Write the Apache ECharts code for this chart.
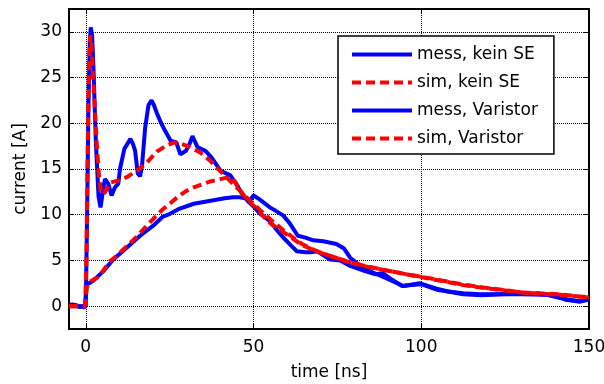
<!DOCTYPE html>
<html>
<head>
<meta charset="utf-8">
<script src="https://cdn.jsdelivr.net/npm/echarts@6/dist/echarts.min.js"></script>
<style>
  html, body { margin: 0; padding: 0; background: #fff; }
  #chart { width: 604px; height: 384px; }
</style>
</head>
<body>
<div id="chart"></div>
<script>
// time axis in ns, current in A
const xTicks = [0, 50, 100, 150];
const yTicks = [0, 5, 10, 15, 20, 25, 30];

const tMessKein = [-5, -4, -3, -2, -1, -0.5, 0, 0.4, 0.8, 1.2, 1.5, 1.9, 2.3, 3.0, 3.8, 4.4, 5.0, 5.7, 6.7, 7.7, 8.7, 9.7, 10.2, 11.5, 12.5, 13.3, 14.0, 14.7, 15.5, 16.2, 16.8, 17.7, 18.7, 19.6, 20.3, 21.3, 22.5, 23.6, 25.3, 27.0, 28.2, 29.9, 31.0, 31.8, 33.3, 35.6, 37.4, 40.2, 43.1, 44.8, 46.6, 48.3, 50.0, 52.0, 54.9, 57.0, 58.9, 61.0, 62.9, 65.5, 67.0, 69.0, 72.8, 75.9, 78.8, 82.8, 86.2, 88.5, 90.8, 94.3, 97.0, 100.0, 104.6, 108.0, 112.5, 118.0, 124.0, 130.0, 135.0, 140.0, 143.0, 147.0, 150.0];
const iMessKein = [0.1, 0.2, 0.1, 0, 0, -0.2, 0, 10, 22, 29, 30.5, 29.5, 26, 18, 12, 10.8, 12.3, 13.9, 13.4, 12.1, 13.0, 13.4, 15.0, 17.2, 17.8, 18.3, 17.8, 17.0, 14.5, 14.2, 15.5, 19.5, 22.0, 22.5, 22.0, 21.0, 20.0, 19.2, 18.1, 17.9, 16.6, 17.0, 17.8, 18.6, 17.4, 17.0, 16.3, 14.8, 14.3, 13.4, 12.3, 11.5, 10.9, 10.1, 9.3, 8.3, 7.5, 6.7, 6.0, 5.9, 5.9, 6.0, 5.1, 5.0, 4.4, 3.9, 3.5, 3.6, 3.0, 2.2, 2.3, 2.4, 1.8, 1.6, 1.3, 1.2, 1.3, 1.3, 1.3, 1.2, 0.7, 0.5, 0.7];

const tSimKein = [-5, -0.2, 0.2, 0.6, 1.0, 1.3, 1.6, 2.0, 2.5, 3.0, 3.5, 4.0, 4.5, 5.2, 6.3, 7.2, 9.2, 12.2, 15.2, 18.2, 21.2, 24.1, 26.4, 28.1, 31.1, 34.1, 37.1, 40.0, 43.0, 46.0, 49.0, 52.0, 55.0, 58.9, 64.4, 69.0, 73.6, 78.8, 83.9, 89.7, 95.4, 101.0, 106.9, 112.6, 118.4, 124.0, 130.0, 135.6, 141.4, 147.0, 150.0];
const iSimKein = [0, 0, 5, 18, 27, 29.6, 29.2, 26.5, 23, 19.5, 16.5, 14, 12.6, 12.2, 12.8, 13.5, 13.7, 14.1, 14.8, 15.7, 16.9, 17.6, 17.9, 17.8, 17.4, 16.8, 15.9, 14.8, 13.7, 12.6, 11.5, 10.5, 9.5, 8.3, 6.8, 6.0, 5.4, 4.8, 4.3, 3.9, 3.5, 3.1, 2.7, 2.3, 2.0, 1.75, 1.5, 1.35, 1.25, 1.05, 0.95];

const tMessVar = [-5, -4, -3, -2, -1, -0.3, 0.1, 0.3, 1.0, 2.3, 5.2, 8.2, 12.2, 16.2, 20.1, 23.0, 25.1, 27.6, 32.2, 36.8, 41.4, 44.0, 46.0, 47.5, 49.0, 50.0, 51.7, 54.9, 56.3, 58.9, 60.9, 63.2, 65.5, 67.8, 70.8, 74.7, 77.0, 78.8, 81.8, 84.8, 88.0, 91.0, 94.6, 99.6, 104.6, 108.0, 112.5, 117.5, 123.5, 127.5, 132.0, 137.4, 142.4, 147.4, 150.0];
const iMessVar = [0.1, 0, 0.1, -0.1, 0, -0.2, 0, 2.4, 2.5, 2.8, 3.8, 5.1, 6.4, 7.7, 8.8, 9.8, 10.1, 10.6, 11.2, 11.5, 11.8, 11.9, 11.9, 11.8, 11.6, 12.1, 11.7, 10.8, 10.5, 9.9, 9.0, 7.7, 7.5, 7.2, 7.1, 6.8, 6.3, 5.3, 4.4, 3.8, 3.3, 2.8, 2.2, 2.5, 1.9, 1.6, 1.4, 1.3, 1.3, 1.35, 1.3, 1.25, 0.8, 0.5, 0.8];

const tSimVar = [-5, -0.2, 0.3, 1.0, 3.3, 5.0, 7.2, 9.2, 11.2, 13.8, 15.2, 18.4, 20.0, 23.0, 25.0, 27.6, 30.0, 32.2, 34.5, 36.8, 39.0, 41.4, 43.0, 44.5, 46.0, 48.3, 50.6, 53.0, 55.2, 58.9, 64.4, 69.0, 73.6, 78.2, 83.9, 89.7, 95.4, 101.0, 106.9, 112.6, 118.4, 124.0, 130.0, 135.6, 141.4, 147.0, 150.0];
const iSimVar = [0, 0, 2.0, 2.6, 3.1, 3.8, 4.9, 5.5, 6.2, 7.1, 7.6, 8.9, 9.5, 10.6, 11.2, 12.0, 12.6, 13.0, 13.3, 13.6, 13.8, 14.0, 14.1, 13.6, 12.6, 11.6, 10.8, 9.8, 9.0, 8.1, 6.7, 5.95, 5.4, 4.85, 4.35, 3.9, 3.5, 3.15, 2.75, 2.35, 2.05, 1.8, 1.5, 1.4, 1.3, 1.05, 1.0];

const zip = (ts, vs) => ts.map((t, i) => [t, vs[i]]);

const FONT = "DejaVu Sans";
const BLUE = "#0000ff";
const RED = "#ff0000";

const chart = echarts.init(document.getElementById("chart"), null, { renderer: "canvas" });

const gridLine = { show: true, lineStyle: { color: "#000", width: 1, type: [1, 1] } };
const frameLine = { show: true, onZero: false, lineStyle: { color: "#000", width: 2 } };

const solid = (name, data) => ({
  name, type: "line", data, showSymbol: false, symbol: "none",
  lineStyle: { color: BLUE, width: 4 }, itemStyle: { color: BLUE }
});
const dashed = (name, data) => ({
  name, type: "line", data, showSymbol: false, symbol: "none",
  lineStyle: { color: RED, width: 4, type: [9, 5] }, itemStyle: { color: RED }
});

const option = {
  animation: false,
  backgroundColor: "#fff",
  textStyle: { fontFamily: FONT },
  grid: { left: 69, right: 15, top: 9, bottom: 55, containLabel: false, outerBoundsMode: "none" },
  legend: {
    orient: "vertical",
    left: 338,
    top: 36,
    padding: [10, 16, 7, 12],
    itemWidth: 60,
    itemHeight: 14,
    itemGap: 11,
    backgroundColor: "#fff",
    borderColor: "#000",
    borderWidth: 1.5,
    borderRadius: 0,
    itemStyle: { opacity: 0 },
    lineStyle: { width: 4 },
    textStyle: { color: "#000", fontSize: 17, fontFamily: FONT },
    data: ["mess, kein SE", "sim, kein SE", "mess, Varistor", "sim, Varistor"]
  },
  xAxis: [
    {
      type: "value", min: -5, max: 150,
      name: "time [ns]", nameLocation: "middle", nameGap: 35,
      nameTextStyle: { color: "#000", fontSize: 17, fontFamily: FONT },
      axisLine: frameLine,
      axisTick: { show: true, inside: true, length: 5, customValues: xTicks, lineStyle: { color: "#000" } },
      axisLabel: { color: "#000", fontSize: 17, fontFamily: FONT, margin: 10, customValues: xTicks },
      splitLine: gridLine
    },
    {
      type: "value", min: -5, max: 150, position: "top",
      axisLine: frameLine,
      axisTick: { show: true, inside: true, length: 5, customValues: xTicks, lineStyle: { color: "#000" } },
      axisLabel: { show: false },
      splitLine: { show: false }
    }
  ],
  yAxis: [
    {
      type: "value", min: -2.5, max: 32.5,
      name: "current [A]", nameLocation: "middle", nameGap: 40,
      nameTextStyle: { color: "#000", fontSize: 17, fontFamily: FONT },
      axisLine: frameLine,
      axisTick: { show: true, inside: true, length: 5, customValues: yTicks, lineStyle: { color: "#000" } },
      axisLabel: { color: "#000", fontSize: 17, fontFamily: FONT, margin: 7, customValues: yTicks },
      splitLine: gridLine
    },
    {
      type: "value", min: -2.5, max: 32.5, position: "right",
      axisLine: frameLine,
      axisTick: { show: true, inside: true, length: 5, customValues: yTicks, lineStyle: { color: "#000" } },
      axisLabel: { show: false },
      splitLine: { show: false }
    }
  ],
  series: [
    solid("mess, kein SE", zip(tMessKein, iMessKein)),
    solid("mess, Varistor", zip(tMessVar, iMessVar)),
    dashed("sim, kein SE", zip(tSimKein, iSimKein)),
    dashed("sim, Varistor", zip(tSimVar, iSimVar))
  ]
};

chart.setOption(option);
</script>
</body>
</html>
